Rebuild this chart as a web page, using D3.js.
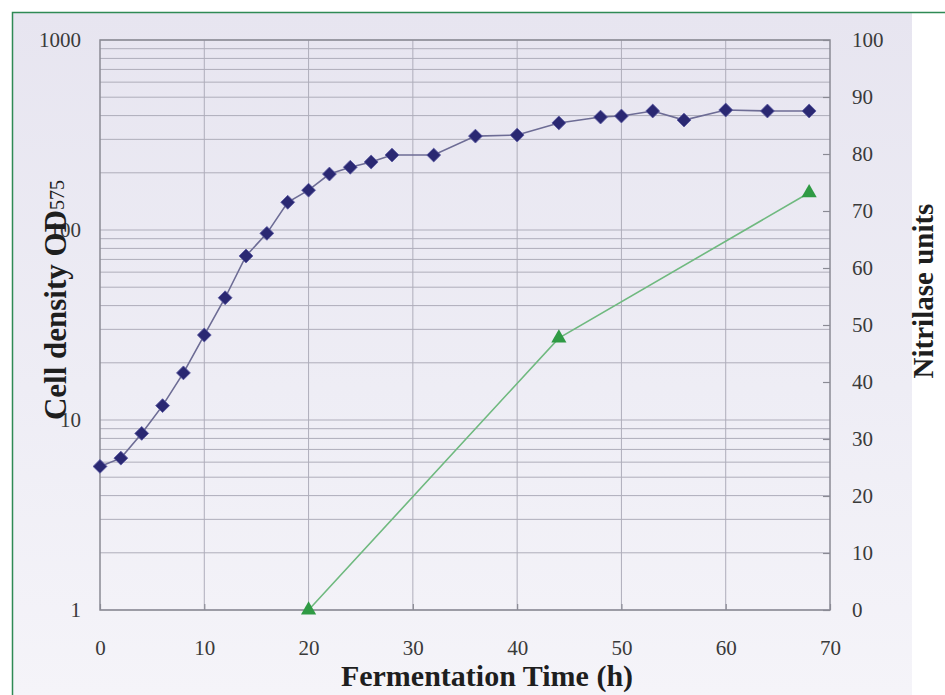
<!DOCTYPE html>
<html>
<head>
<meta charset="utf-8">
<script src="https://cdn.jsdelivr.net/npm/d3@7"></script>
<style>
  html, body { margin: 0; padding: 0; background: #fff; }
  svg { display: block; }
  text { font-family: "Liberation Serif", "DejaVu Serif", serif; }
</style>
</head>
<body>
<svg id="chart" width="945" height="695"></svg>
<script>
"use strict"

// cell density (OD575), log axis on the left
const timeOD = [0, 2, 4, 6, 8, 10, 12, 14, 16, 18, 20, 22, 24, 26, 28, 32, 36, 40, 44, 48, 50, 53, 56, 60, 64, 68]
const od = [5.7, 6.3, 8.5, 11.9, 17.7, 28, 44, 73, 96, 140, 162, 197, 214, 228, 248, 248, 312, 316, 366, 393, 398, 423, 379, 428, 423, 423]

// nitrilase units, linear axis on the right
const timeNit = [20, 44, 68]
const nit = [0, 47.7, 73.2]

const xTicks = [0, 10, 20, 30, 40, 50, 60, 70]
const leftTicks = [1, 10, 100, 1000]
const rightTicks = [0, 10, 20, 30, 40, 50, 60, 70, 80, 90, 100]

const svg = d3.select('#chart')
const W = 945, H = 695
const plot = { left: 100, right: 830, top: 40, bottom: 610 }

// background panel
const defs = svg.append('defs')
const grad = defs.append('linearGradient').attr('id', 'bg')
    .attr('x1', 0).attr('y1', 0).attr('x2', 0).attr('y2', 1)
grad.append('stop').attr('offset', '0%').attr('stop-color', '#e7e5f0')
grad.append('stop').attr('offset', '55%').attr('stop-color', '#eeedf5')
grad.append('stop').attr('offset', '100%').attr('stop-color', '#f5f4f9')

svg.append('rect').attr('x', 13).attr('y', 13).attr('width', 899).attr('height', H - 13)
    .attr('fill', 'url(#bg)')

// green frame (top and left)
svg.append('path').attr('d', `M12.5,${H} L12.5,12.5 L${W},12.5`)
    .attr('fill', 'none').attr('stroke', '#2f8a55').attr('stroke-width', 1.5)

const x = d3.scaleLinear().domain([0, 70]).range([plot.left, plot.right])
const yL = d3.scaleLog().domain([1, 1000]).range([plot.bottom, plot.top])
const yR = d3.scaleLinear().domain([0, 100]).range([plot.bottom, plot.top])

// log gridlines (all minor values)
const gridVals = []
for (let d = 1; d < 1000; d *= 10) {
    for (let k = 1; k <= 9; k++) gridVals.push(d * k)
}
gridVals.push(1000)
svg.append('g').selectAll('line').data(gridVals).join('line')
    .attr('x1', plot.left).attr('x2', plot.right)
    .attr('y1', d => yL(d)).attr('y2', d => yL(d))
    .attr('stroke', '#aeadba').attr('stroke-width', 1)

// vertical gridlines
svg.append('g').selectAll('line').data(xTicks.slice(1, -1)).join('line')
    .attr('x1', d => x(d)).attr('x2', d => x(d))
    .attr('y1', plot.top).attr('y2', plot.bottom)
    .attr('stroke', '#aeadba').attr('stroke-width', 1)

// plot frame
svg.append('rect')
    .attr('x', plot.left).attr('y', plot.top)
    .attr('width', plot.right - plot.left).attr('height', plot.bottom - plot.top)
    .attr('fill', 'none').attr('stroke', '#8a8a94').attr('stroke-width', 1.5)

// axes
const xAxis = svg.append('g').attr('transform', `translate(0,${plot.bottom})`)
    .call(d3.axisBottom(x).tickValues(xTicks).tickSize(-6).tickPadding(30).tickFormat(d3.format('d')))
const leftAxis = svg.append('g').attr('transform', `translate(${plot.left},0)`)
    .call(d3.axisLeft(yL).tickValues(leftTicks).tickSize(0).tickPadding(19).tickFormat(d3.format('d')))
const rightAxis = svg.append('g').attr('transform', `translate(${plot.right},0)`)
    .call(d3.axisRight(yR).tickValues(rightTicks).tickSize(-7).tickPadding(22).tickFormat(d3.format('d')))

;[xAxis, leftAxis, rightAxis].forEach(a => {
    a.select('.domain').remove()
    a.selectAll('.tick line').attr('stroke', '#8a8a94').attr('stroke-width', 1.2)
    a.selectAll('.tick text')
        .attr('fill', '#3a3a3a')
        .style('font-family', '"Liberation Serif", serif')
        .style('font-size', '21px')
})
rightAxis.selectAll('.tick line').attr('x2', -7)

// OD line + diamonds
const lineOD = d3.line().x((d, i) => x(timeOD[i])).y(d => yL(d))
svg.append('path').datum(od).attr('d', lineOD)
    .attr('fill', 'none').attr('stroke', '#6d6c95').attr('stroke-width', 1.6)

svg.append('g').selectAll('path').data(od).join('path')
    .attr('transform', (d, i) => `translate(${x(timeOD[i])},${yL(d)}) rotate(45)`)
    .attr('d', d3.symbol(d3.symbolSquare, 96))
    .attr('fill', '#2a2872')
    .attr('stroke', '#5a58a0').attr('stroke-width', 0.8)

// nitrilase line + triangles
const lineNit = d3.line().x((d, i) => x(timeNit[i])).y(d => yR(d))
svg.append('path').datum(nit).attr('d', lineNit)
    .attr('fill', 'none').attr('stroke', '#6fb97f').attr('stroke-width', 1.6)

svg.append('g').selectAll('path').data(nit).join('path')
    .attr('transform', (d, i) => `translate(${x(timeNit[i])},${yR(d)})`)
    .attr('d', d3.symbol(d3.symbolTriangle, 100))
    .attr('fill', '#2f9a44')

// axis titles
svg.append('text')
    .attr('x', 487).attr('y', 686)
    .attr('text-anchor', 'middle')
    .attr('font-size', 30).attr('font-weight', 'bold').attr('fill', '#1e1e1e')
    .text('Fermentation Time (h)')

const yTitle = svg.append('text')
    .attr('transform', 'translate(66,300) rotate(-90)')
    .attr('text-anchor', 'middle')
    .attr('font-size', 31).attr('font-weight', 'bold').attr('fill', '#1e1e1e')
yTitle.append('tspan').text('Cell density OD')
yTitle.append('tspan').attr('font-size', 20).attr('font-weight', 'normal')
    .attr('dy', -2).text('575')

svg.append('text')
    .attr('transform', 'translate(933,291) rotate(-90)')
    .attr('text-anchor', 'middle')
    .attr('font-size', 29).attr('font-weight', 'bold').attr('fill', '#1e1e1e')
    .text('Nitrilase units')
</script>
</body>
</html>
